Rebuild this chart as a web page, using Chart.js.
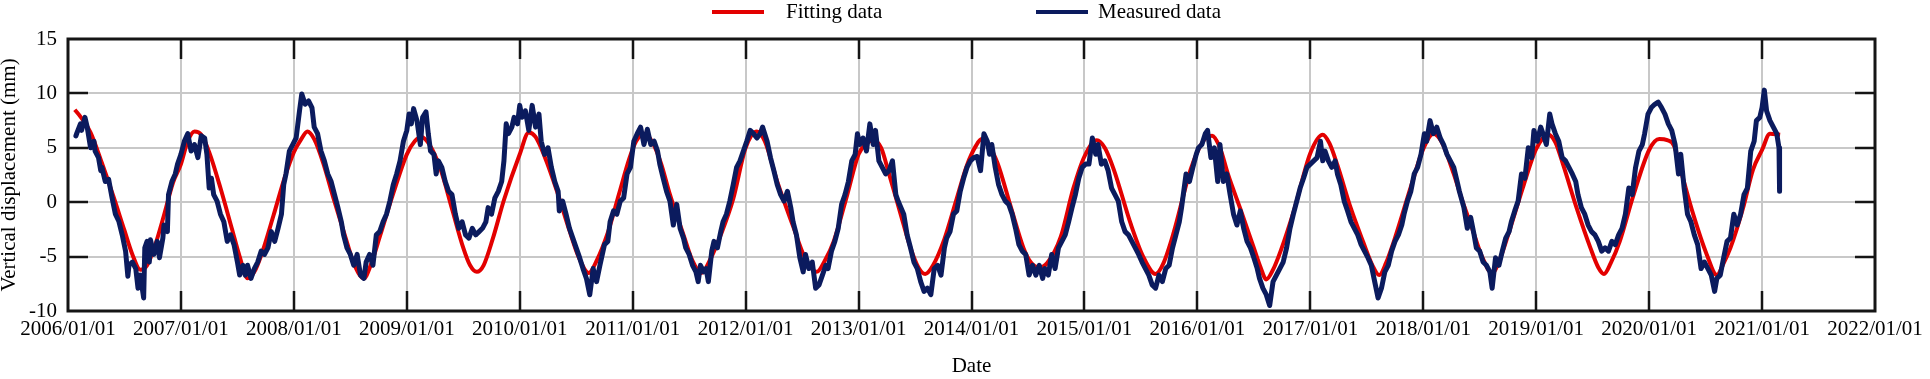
<!DOCTYPE html>
<html>
<head>
<meta charset="utf-8">
<script src="https://cdn.jsdelivr.net/npm/chart.js@4.4.1/dist/chart.umd.min.js"></script>
<style>
  html, body { margin: 0; padding: 0; background: #fff; }
  #wrap { width: 1930px; height: 379px; position: relative; }
</style>
</head>
<body>
<div id="wrap"><canvas id="chart"></canvas></div>
<script>
// Tick labels
const xTickLabels = ['2006/01/01', '2007/01/01', '2008/01/01', '2009/01/01', '2010/01/01', '2011/01/01',
    '2012/01/01', '2013/01/01', '2014/01/01', '2015/01/01', '2016/01/01', '2017/01/01',
    '2018/01/01', '2019/01/01', '2020/01/01', '2021/01/01', '2022/01/01'];
const seriesNames = ['Fitting data', 'Measured data'];

// Fitted curve, [decimal year, mm]
const fittingSeries = [
    [2006.06, 8.5], [2006.10, 8.0], [2006.20, 6.4], [2006.30, 3.6], [2006.40, 0.6], [2006.50, -2.6],
    [2006.57, -4.8], [2006.64, -6.2], [2006.70, -5.8], [2006.77, -4.0], [2006.85, -1.2], [2006.93, 1.8],
    [2007.00, 3.5], [2007.06, 5.6], [2007.12, 6.5], [2007.18, 6.2], [2007.25, 4.6], [2007.35, 1.3],
    [2007.45, -2.4], [2007.52, -5.0], [2007.59, -7.0], [2007.65, -6.4], [2007.72, -4.6], [2007.82, -1.2],
    [2007.92, 2.3], [2008.00, 4.6], [2008.06, 5.7], [2008.12, 6.5], [2008.18, 5.8], [2008.26, 3.6],
    [2008.35, 0.4], [2008.45, -3.0], [2008.53, -5.6], [2008.62, -7.0], [2008.68, -5.8], [2008.76, -3.2],
    [2008.88, 0.8], [2009.00, 4.4], [2009.07, 5.6], [2009.13, 6.0], [2009.20, 5.3], [2009.30, 3.0],
    [2009.40, -0.6], [2009.50, -4.2], [2009.56, -5.8], [2009.62, -6.4], [2009.68, -5.8], [2009.76, -3.4],
    [2009.86, 0.2], [2010.00, 4.4], [2010.08, 6.4], [2010.14, 6.0], [2010.22, 4.2], [2010.33, 1.0],
    [2010.44, -2.6], [2010.52, -5.0], [2010.61, -6.5], [2010.68, -5.4], [2010.78, -2.8], [2010.88, 0.8],
    [2010.97, 4.0], [2011.03, 5.6], [2011.10, 6.3], [2011.17, 5.6], [2011.25, 3.6], [2011.33, 0.7],
    [2011.45, -3.0], [2011.53, -5.4], [2011.61, -6.5], [2011.68, -5.4], [2011.78, -3.0], [2011.89, 0.3],
    [2012.00, 5.0], [2012.10, 6.5], [2012.17, 5.6], [2012.28, 1.9], [2012.42, -2.2], [2012.52, -5.0],
    [2012.63, -6.4], [2012.70, -5.4], [2012.78, -3.6], [2012.90, 0.7], [2013.00, 4.4], [2013.07, 5.4],
    [2013.13, 5.7], [2013.20, 5.0], [2013.27, 2.6], [2013.37, -1.0], [2013.46, -4.2], [2013.53, -6.0],
    [2013.59, -6.6], [2013.66, -5.8], [2013.76, -3.4], [2013.86, 0.0], [2013.96, 3.4], [2014.04, 5.2],
    [2014.09, 5.8], [2014.15, 5.3], [2014.23, 3.6], [2014.35, -0.5], [2014.46, -4.2], [2014.53, -5.6],
    [2014.60, -6.0], [2014.67, -5.6], [2014.79, -3.2], [2014.90, 1.2], [2015.00, 4.2], [2015.11, 5.7],
    [2015.18, 5.0], [2015.26, 3.0], [2015.41, -2.0], [2015.52, -5.0], [2015.63, -6.6], [2015.70, -5.6],
    [2015.79, -2.8], [2015.94, 3.0], [2016.05, 5.6], [2016.13, 6.1], [2016.20, 5.0], [2016.27, 2.6],
    [2016.38, -0.6], [2016.50, -4.2], [2016.56, -6.0], [2016.61, -7.1], [2016.67, -6.2], [2016.74, -4.4],
    [2016.86, -0.6], [2017.00, 4.5], [2017.11, 6.2], [2017.17, 5.4], [2017.24, 3.4], [2017.36, -0.6],
    [2017.47, -3.7], [2017.55, -5.8], [2017.61, -6.7], [2017.67, -5.6], [2017.74, -3.6], [2017.89, 1.4],
    [2018.00, 4.9], [2018.09, 6.3], [2018.16, 5.6], [2018.27, 2.6], [2018.35, 0.0], [2018.42, -2.0],
    [2018.52, -5.0], [2018.61, -6.5], [2018.68, -5.2], [2018.77, -2.4], [2018.89, 1.6], [2019.00, 4.9],
    [2019.11, 6.2], [2019.17, 5.5], [2019.24, 3.4], [2019.36, -0.6], [2019.48, -4.2], [2019.55, -6.0],
    [2019.60, -6.6], [2019.66, -5.6], [2019.74, -3.6], [2019.86, 0.6], [2020.00, 4.8], [2020.09, 5.8],
    [2020.16, 5.7], [2020.22, 5.2], [2020.30, 2.2], [2020.39, -1.1], [2020.51, -4.8], [2020.60, -6.7],
    [2020.66, -5.6], [2020.72, -4.2], [2020.83, -0.6], [2020.92, 3.0], [2021.00, 4.8], [2021.07, 6.3],
    [2021.16, 6.2]
];

// Measured displacement, [decimal year, mm]
const measuredSeries = [
    [2006.07, 6.1], [2006.08, 6.4], [2006.11, 7.2], [2006.12, 6.6], [2006.15, 7.8], [2006.17, 6.9],
    [2006.20, 5.0], [2006.23, 5.6], [2006.24, 4.7], [2006.27, 4.1], [2006.29, 2.9], [2006.30, 3.2],
    [2006.33, 1.9], [2006.36, 2.1], [2006.39, 0.4], [2006.42, -1.1], [2006.45, -1.75], [2006.48, -3.0],
    [2006.51, -4.5], [2006.53, -6.8], [2006.54, -5.8], [2006.57, -5.5], [2006.60, -6.1], [2006.62, -7.9],
    [2006.64, -6.7], [2006.67, -8.8], [2006.68, -4.2], [2006.70, -3.6], [2006.72, -5.5], [2006.73, -3.45],
    [2006.76, -4.8], [2006.79, -3.6], [2006.81, -5.1], [2006.84, -3.3], [2006.85, -2.1], [2006.88, -2.7],
    [2006.89, 0.7], [2006.92, 1.9], [2006.95, 2.6], [2006.97, 3.5], [2007.00, 4.4], [2007.03, 5.6],
    [2007.06, 6.3], [2007.09, 4.7], [2007.12, 5.3], [2007.15, 4.1], [2007.18, 6.1], [2007.21, 5.9],
    [2007.23, 4.4], [2007.25, 1.3], [2007.27, 2.2], [2007.29, 0.7], [2007.32, 0.1], [2007.35, -1.1],
    [2007.38, -1.8], [2007.41, -3.6], [2007.44, -3.0], [2007.47, -3.9], [2007.50, -5.5], [2007.52, -6.7],
    [2007.55, -5.8], [2007.57, -6.7], [2007.59, -5.8], [2007.62, -7.0], [2007.65, -6.1], [2007.68, -5.5],
    [2007.71, -4.5], [2007.74, -4.8], [2007.77, -4.2], [2007.80, -2.7], [2007.83, -3.6], [2007.86, -2.4],
    [2007.89, -1.1], [2007.91, 1.6], [2007.93, 2.6], [2007.96, 4.7], [2007.99, 5.3], [2008.02, 5.9],
    [2008.05, 8.4], [2008.07, 9.95], [2008.10, 9.0], [2008.13, 9.3], [2008.16, 8.7], [2008.18, 6.9],
    [2008.21, 6.3], [2008.24, 4.7], [2008.27, 3.8], [2008.30, 2.6], [2008.33, 1.9], [2008.36, 0.7],
    [2008.39, -0.5], [2008.42, -1.8],
    [2008.44, -3.0], [2008.47, -4.2], [2008.50, -4.8], [2008.53, -5.8], [2008.56, -4.8], [2008.59, -6.7],
    [2008.62, -7.0], [2008.64, -5.5], [2008.67, -4.8], [2008.70, -5.8], [2008.73, -3.0], [2008.76, -2.7],
    [2008.79, -1.8], [2008.82, -1.1], [2008.85, 0.1], [2008.88, 1.6], [2008.91, 2.6], [2008.94, 3.8],
    [2008.97, 5.6], [2009.00, 6.6], [2009.02, 8.1], [2009.04, 7.2], [2009.06, 8.6], [2009.09, 7.5],
    [2009.12, 5.3], [2009.14, 7.8], [2009.17, 8.3], [2009.19, 6.3], [2009.21, 4.7], [2009.24, 4.4],
    [2009.26, 2.6], [2009.28, 3.8], [2009.31, 3.2], [2009.34, 1.9], [2009.37, 1.0], [2009.40, 0.7],
    [2009.43, -1.1], [2009.46, -2.4], [2009.49, -1.8], [2009.52, -3.0], [2009.55, -3.3], [2009.58, -2.4],
    [2009.61, -3.0], [2009.64, -2.7], [2009.67, -2.4], [2009.70, -1.8], [2009.72, -0.5], [2009.75, -1.1],
    [2009.78, 0.4], [2009.81, 1.0], [2009.84, 1.9], [2009.86, 3.8], [2009.88, 7.2], [2009.90, 6.3],
    [2009.93, 6.9], [2009.95, 7.8], [2009.98, 7.2], [2010.00, 8.9], [2010.02, 7.8], [2010.05, 8.4],
    [2010.08, 6.6], [2010.11, 8.9], [2010.14, 6.9], [2010.17, 8.1], [2010.19, 5.6], [2010.22, 4.4],
    [2010.25, 5.0], [2010.28, 3.2], [2010.31, 1.9], [2010.34, 1.0], [2010.35, -0.8], [2010.38, 0.1],
    [2010.41, -1.1], [2010.44, -2.4], [2010.47, -3.3], [2010.50, -4.2], [2010.53, -5.1], [2010.56, -6.1],
    [2010.59, -7.0], [2010.62, -8.5], [2010.65, -6.1], [2010.68, -7.3], [2010.71, -5.8], [2010.75, -3.9],
    [2010.78, -3.6], [2010.80, -1.8], [2010.83, -0.8], [2010.86, -1.1],
    [2010.89, 0.1], [2010.92, 0.4], [2010.95, 2.6], [2010.98, 3.2], [2011.01, 5.6], [2011.04, 6.3],
    [2011.07, 6.9], [2011.10, 5.3], [2011.13, 6.7], [2011.16, 5.3], [2011.19, 5.6], [2011.22, 4.7],
    [2011.24, 3.5], [2011.27, 2.2], [2011.30, 1.0], [2011.33, 0.1], [2011.36, -2.1], [2011.39, -0.2],
    [2011.42, -2.4], [2011.45, -3.3], [2011.47, -4.2], [2011.50, -4.8], [2011.53, -5.8], [2011.56, -6.4],
    [2011.58, -7.3], [2011.60, -5.8], [2011.63, -6.4], [2011.65, -6.1], [2011.67, -7.3], [2011.70, -4.5],
    [2011.72, -3.6], [2011.75, -4.2], [2011.78, -2.7], [2011.80, -1.8], [2011.83, -1.1], [2011.86, 0.1],
    [2011.89, 1.6], [2011.92, 3.2], [2011.95, 3.8], [2011.98, 4.7], [2012.01, 5.6], [2012.04, 6.6],
    [2012.07, 6.3], [2012.10, 5.9], [2012.13, 6.3], [2012.15, 6.9], [2012.19, 5.6], [2012.22, 4.1],
    [2012.25, 2.9], [2012.28, 1.6], [2012.31, 0.7], [2012.34, 0.1], [2012.37, 1.0], [2012.40, -0.5],
    [2012.42, -1.8], [2012.45, -3.0], [2012.48, -5.1], [2012.51, -6.4], [2012.53, -4.8], [2012.56, -6.1],
    [2012.59, -5.5], [2012.62, -7.9], [2012.65, -7.6], [2012.68, -6.7], [2012.71, -5.8], [2012.73, -6.1],
    [2012.76, -4.5], [2012.79, -3.6], [2012.82, -2.4], [2012.85, -0.2], [2012.88, 0.7], [2012.91, 1.9],
    [2012.94, 3.8], [2012.97, 4.4], [2012.99, 6.3], [2013.01, 5.3], [2013.04, 5.9], [2013.07, 4.7],
    [2013.10, 7.2], [2013.13, 5.3], [2013.15, 6.6], [2013.18, 3.8], [2013.21, 3.2], [2013.24, 2.6],
    [2013.27, 2.9], [2013.30, 3.8], [2013.33, 0.7], [2013.35, 0.1],
    [2013.40, -1.1], [2013.43, -3.0], [2013.46, -4.2], [2013.49, -5.5], [2013.52, -6.1], [2013.55, -7.3],
    [2013.58, -8.2], [2013.61, -7.9], [2013.64, -8.5], [2013.67, -6.1], [2013.70, -5.8], [2013.73, -6.7],
    [2013.76, -4.2], [2013.78, -3.3], [2013.81, -2.7], [2013.84, -1.1], [2013.87, -0.8], [2013.90, 1.0],
    [2013.93, 2.2], [2013.96, 3.2], [2013.99, 3.8], [2014.02, 4.1], [2014.05, 4.2], [2014.08, 2.9],
    [2014.11, 6.3], [2014.14, 5.6], [2014.16, 4.4], [2014.18, 5.3], [2014.21, 3.2], [2014.24, 1.6],
    [2014.27, 0.7], [2014.30, 0.1], [2014.33, -0.2], [2014.36, -1.1], [2014.39, -2.4], [2014.42, -3.9],
    [2014.45, -4.5], [2014.48, -4.8], [2014.51, -6.7], [2014.54, -5.8], [2014.57, -6.7], [2014.60, -5.8],
    [2014.63, -7.0], [2014.65, -6.1], [2014.68, -6.7], [2014.71, -4.8], [2014.74, -6.1], [2014.77, -4.2],
    [2014.80, -3.6], [2014.83, -3.0], [2014.86, -1.8], [2014.89, -0.5], [2014.92, 0.7], [2014.95, 2.2],
    [2014.98, 3.2], [2015.01, 3.5], [2015.04, 3.5], [2015.07, 5.9], [2015.10, 4.4], [2015.12, 5.3],
    [2015.15, 3.5], [2015.18, 3.8], [2015.21, 2.9], [2015.24, 1.3], [2015.27, 0.7], [2015.30, 0.1],
    [2015.33, -1.8], [2015.36, -2.7], [2015.39, -3.0], [2015.42, -3.6], [2015.45, -4.2], [2015.48, -4.8],
    [2015.51, -5.5], [2015.54, -6.1], [2015.57, -6.7], [2015.60, -7.6], [2015.63, -7.9], [2015.66, -6.7],
    [2015.69, -7.3], [2015.72, -6.1], [2015.75, -5.8], [2015.78, -4.2], [2015.81, -3.0], [2015.84, -1.8],
    [2015.86, -0.5],
    [2015.90, 2.6], [2015.93, 1.9], [2015.96, 3.2], [2015.99, 4.4], [2016.01, 5.0], [2016.04, 5.3],
    [2016.07, 6.3], [2016.09, 6.6], [2016.12, 4.1], [2016.15, 5.0], [2016.18, 1.9], [2016.20, 5.3],
    [2016.23, 1.9], [2016.26, 2.6], [2016.29, 0.7], [2016.32, -1.1], [2016.35, -2.1], [2016.38, -0.8],
    [2016.41, -2.4], [2016.44, -3.6], [2016.47, -4.2], [2016.50, -5.1], [2016.53, -6.1], [2016.55, -7.0],
    [2016.58, -7.9], [2016.61, -8.5], [2016.64, -9.5], [2016.67, -7.3], [2016.70, -6.7], [2016.73, -6.1],
    [2016.76, -5.5], [2016.79, -4.2], [2016.82, -2.4], [2016.85, -1.1], [2016.88, 0.1], [2016.91, 1.3],
    [2016.94, 2.2], [2016.97, 3.2], [2017.00, 3.5], [2017.03, 3.8], [2017.06, 4.1], [2017.09, 5.6],
    [2017.11, 3.8], [2017.13, 4.7], [2017.16, 3.8], [2017.19, 3.2], [2017.22, 3.8], [2017.24, 2.6],
    [2017.27, 1.6], [2017.30, 0.1], [2017.33, -0.8], [2017.36, -1.8], [2017.39, -2.4], [2017.42, -3.0],
    [2017.45, -3.9], [2017.48, -4.5], [2017.51, -5.1], [2017.54, -5.8], [2017.57, -7.3], [2017.60, -8.8],
    [2017.63, -7.9], [2017.66, -6.4], [2017.69, -5.8], [2017.72, -4.5], [2017.75, -3.6], [2017.78, -3.0],
    [2017.81, -2.1], [2017.83, -1.1], [2017.86, 0.1], [2017.89, 1.0], [2017.92, 2.6], [2017.95, 3.2],
    [2017.98, 4.4], [2018.01, 6.3], [2018.03, 5.6], [2018.06, 7.5], [2018.09, 6.3], [2018.12, 6.9],
    [2018.15, 5.9], [2018.18, 5.3], [2018.21, 4.4], [2018.24, 3.8], [2018.27, 3.2], [2018.30, 1.9],
    [2018.32, 1.0],
    [2018.36, -0.5], [2018.39, -2.4], [2018.42, -1.4], [2018.45, -3.0], [2018.47, -4.2], [2018.50, -4.5],
    [2018.53, -5.5], [2018.56, -5.8], [2018.59, -6.4], [2018.61, -7.9], [2018.64, -5.1], [2018.67, -5.8],
    [2018.70, -4.5], [2018.73, -3.3], [2018.76, -2.7], [2018.78, -1.8], [2018.81, -0.8], [2018.84, 0.1],
    [2018.87, 2.6], [2018.90, 2.2], [2018.93, 5.0], [2018.96, 4.1], [2018.98, 6.6], [2019.01, 5.6],
    [2019.04, 6.9], [2019.06, 6.3], [2019.09, 5.3], [2019.12, 8.1], [2019.14, 7.2], [2019.17, 6.3],
    [2019.20, 5.6], [2019.23, 4.1], [2019.26, 3.8], [2019.29, 3.2], [2019.32, 2.6], [2019.35, 1.9],
    [2019.37, 0.7], [2019.40, -0.5], [2019.43, -1.1], [2019.46, -2.1], [2019.49, -2.7], [2019.52, -3.0],
    [2019.55, -3.6], [2019.58, -4.5], [2019.61, -4.2], [2019.64, -4.5], [2019.67, -3.6], [2019.70, -3.9],
    [2019.73, -3.0], [2019.76, -2.4], [2019.79, -1.1], [2019.82, 1.3], [2019.85, 0.7], [2019.88, 3.2],
    [2019.91, 4.7], [2019.94, 5.3], [2019.96, 6.3], [2019.99, 8.1], [2020.02, 8.7], [2020.05, 9.0],
    [2020.08, 9.2], [2020.11, 8.7], [2020.14, 8.1], [2020.17, 7.2], [2020.20, 6.6], [2020.23, 5.3],
    [2020.26, 2.6], [2020.28, 4.4], [2020.31, 1.3], [2020.34, -1.1], [2020.37, -1.8], [2020.40, -3.0],
    [2020.43, -3.9], [2020.46, -6.1], [2020.49, -5.5], [2020.52, -6.1], [2020.55, -6.7], [2020.58, -8.2],
    [2020.60, -7.0], [2020.63, -6.7], [2020.66, -5.1], [2020.69, -3.6], [2020.72, -3.3], [2020.75, -1.1],
    [2020.78, -2.1], [2020.81, -1.1], [2020.84, 0.7], [2020.87, 1.3], [2020.90, 4.7], [2020.93, 5.6],
    [2020.95, 7.5], [2020.98, 7.8], [2021.00, 8.7], [2021.02, 10.3], [2021.04, 8.4], [2021.07, 7.5],
    [2021.10, 6.9], [2021.13, 6.3], [2021.15, 5.0], [2021.155, 1.0]
];

const SERIF = '"Liberation Serif", "Times New Roman", serif';
const RED = '#e30000';
const NAVY = '#0b1b5e';

// Black frame with inward tick marks, drawn over the lines
const framePlugin = {
    id: 'frame',
    afterDatasetsDraw(chart) {
        const { ctx, chartArea: a, scales: { x, y } } = chart;
        const len = 20;
        ctx.save();
        ctx.strokeStyle = '#151515';
        ctx.lineWidth = 2.5;
        ctx.beginPath();
        x.ticks.forEach(t => {
            if (t.value <= x.min || t.value >= x.max) return;
            const px = Math.round(x.getPixelForValue(t.value));
            ctx.moveTo(px, a.top); ctx.lineTo(px, a.top + len);
            ctx.moveTo(px, a.bottom); ctx.lineTo(px, a.bottom - len);
        });
        y.ticks.forEach(t => {
            if (t.value <= y.min || t.value >= y.max) return;
            const py = Math.round(y.getPixelForValue(t.value));
            ctx.moveTo(a.left, py); ctx.lineTo(a.left + len, py);
            ctx.moveTo(a.right, py); ctx.lineTo(a.right - len, py);
        });
        ctx.stroke();
        ctx.lineWidth = 3;
        ctx.strokeRect(a.left, a.top, a.right - a.left, a.bottom - a.top);
        ctx.restore();
    }
};

// Legend above the plot
const legendPlugin = {
    id: 'topLegend',
    afterDraw(chart) {
        const { ctx } = chart;
        const spots = [{ line: 712, text: 786 }, { line: 1036, text: 1098 }];
        ctx.save();
        ctx.font = '21px ' + SERIF;
        ctx.textBaseline = 'alphabetic';
        chart.data.datasets.forEach((ds, i) => {
            const s = spots[i];
            ctx.fillStyle = ds.borderColor;
            ctx.fillRect(s.line, 10, 52, 4);
            ctx.fillStyle = '#000';
            ctx.fillText(ds.label, s.text, 18);
        });
        ctx.restore();
    }
};

const toPoints = rows => rows.map(([x, y]) => ({ x, y }));

new Chart(document.getElementById('chart'), {
    type: 'line',
    data: {
        datasets: [{
            label: seriesNames[0],
            data: toPoints(fittingSeries),
            borderColor: RED,
            borderWidth: 4,
            pointRadius: 0,
            cubicInterpolationMode: 'monotone',
            order: 1
        }, {
            label: seriesNames[1],
            data: toPoints(measuredSeries),
            borderColor: NAVY,
            borderWidth: 5,
            pointRadius: 0,
            tension: 0,
            borderJoinStyle: 'round',
            borderCapStyle: 'round',
            order: 0
        }]
    },
    options: {
        responsive: true,
        maintainAspectRatio: false,
        animation: false,
        devicePixelRatio: 1,
        layout: { padding: { top: 39, right: 55, left: 0, bottom: 0 } },
        plugins: {
            legend: { display: false },
            tooltip: { enabled: false }
        },
        scales: {
            x: {
                type: 'linear',
                min: 2006,
                max: 2022,
                afterFit: scale => { scale.height = 68; },
                grid: { color: '#c8c8c8', lineWidth: 2, drawTicks: false },
                border: { display: false },
                ticks: {
                    stepSize: 1,
                    autoSkip: false,
                    maxRotation: 0,
                    padding: 6,
                    color: '#000',
                    font: { family: SERIF, size: 21 },
                    callback: v => xTickLabels[Math.round(v) - 2006]
                },
                title: {
                    display: true,
                    text: 'Date',
                    color: '#000',
                    font: { family: SERIF, size: 21 },
                    padding: { top: 0, bottom: 0 }
                }
            },
            y: {
                min: -10,
                max: 15,
                afterFit: scale => { scale.width = 68; },
                grid: { color: '#c8c8c8', lineWidth: 2, drawTicks: false },
                border: { display: false },
                ticks: {
                    stepSize: 5,
                    padding: 11,
                    color: '#000',
                    font: { family: SERIF, size: 21 }
                },
                title: {
                    display: true,
                    text: 'Vertical displacement (mm)',
                    color: '#000',
                    font: { family: SERIF, size: 21 },
                    padding: { top: -3, bottom: 0 }
                }
            }
        }
    },
    plugins: [framePlugin, legendPlugin]
});
</script>
</body>
</html>
